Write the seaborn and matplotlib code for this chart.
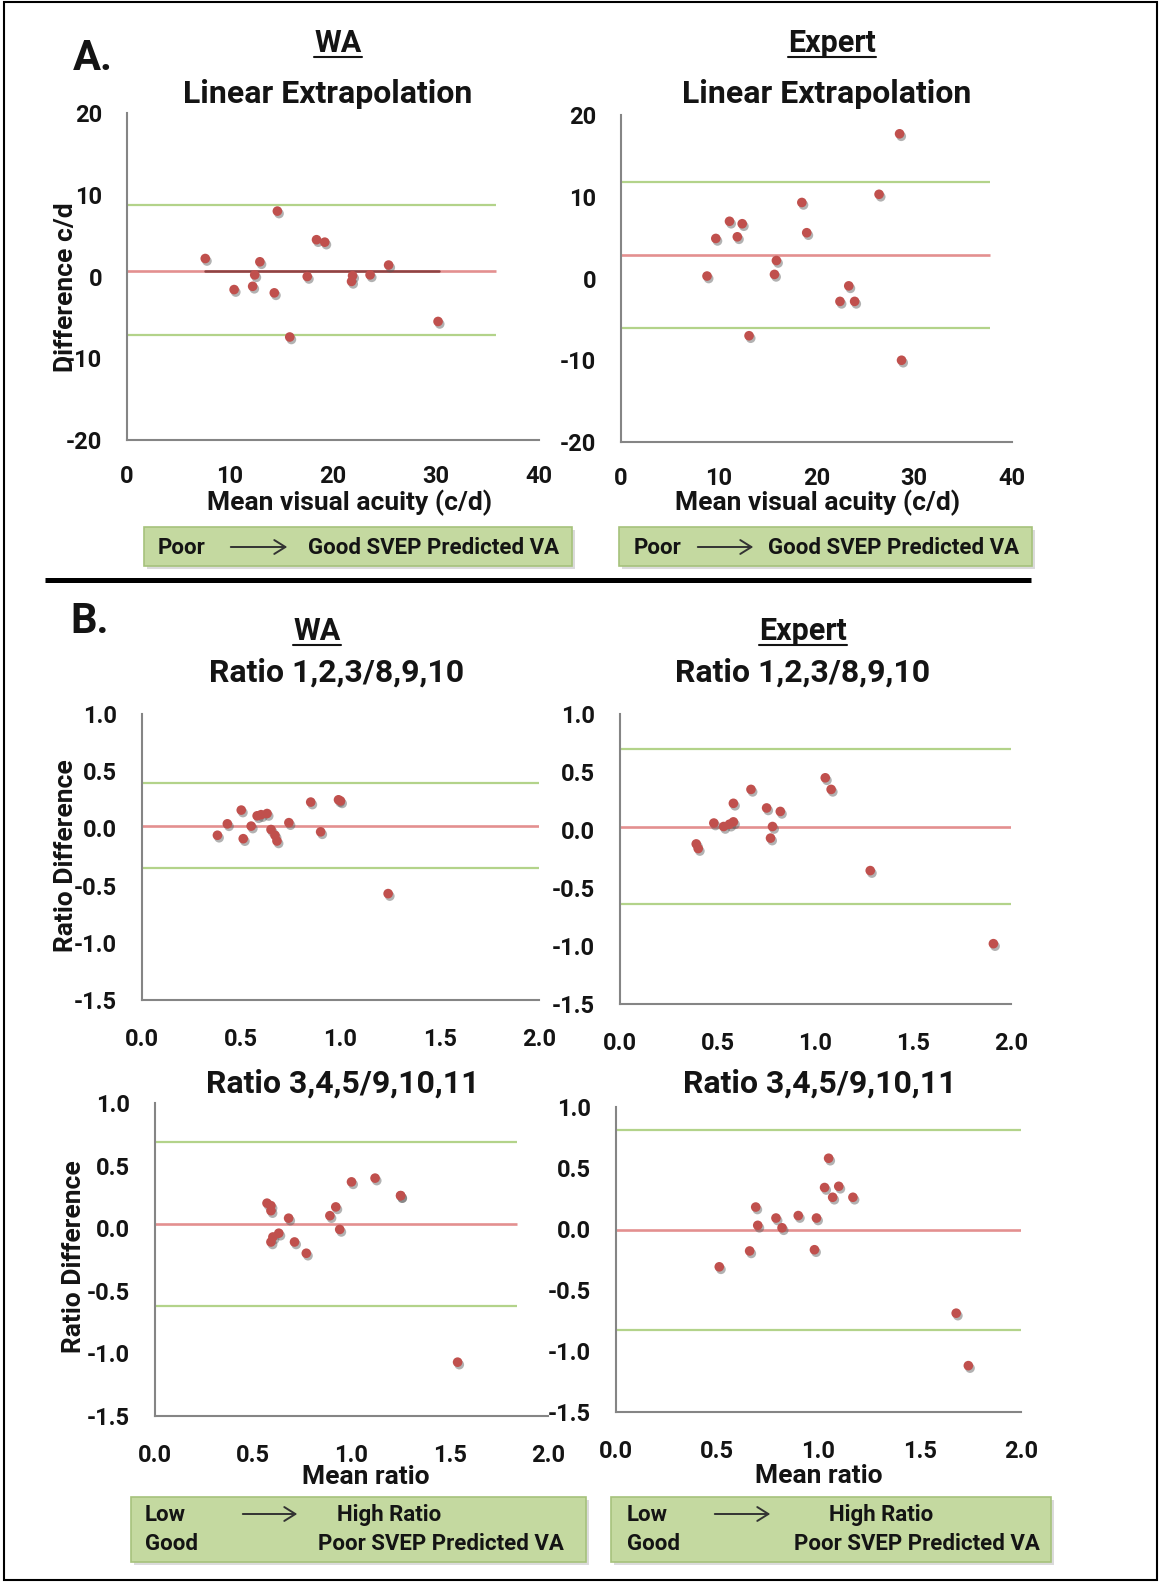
import matplotlib
matplotlib.use("Agg")
import matplotlib.pyplot as plt
import matplotlib.patheffects as pe
from matplotlib.patches import Rectangle, FancyArrowPatch
import seaborn as sns
import pandas as pd

# ---------------- data ----------------
# Panel A, WA, linear extrapolation
a_wa_mean = [7.6, 10.4, 12.2, 12.4, 12.9, 14.3, 14.6, 15.8, 17.5, 18.4, 19.2, 21.8, 21.9, 23.6, 25.4, 30.2]
a_wa_diff = [2.2, -1.6, -1.2, 0.2, 1.8, -2.0, 8.0, -7.4, 0.0, 4.5, 4.2, -0.6, 0.1, 0.2, 1.4, -5.5]
a_wa_bias, a_wa_upper, a_wa_lower = 0.7, 8.7, -7.2
a_wa_trend_x = [7.6, 30.3]
a_wa_trend_y = [0.7, 0.7]

# Panel A, Expert, linear extrapolation
a_ex_mean = [8.8, 9.7, 11.1, 11.9, 12.4, 13.1, 15.7, 15.9, 18.5, 19.0, 22.4, 23.3, 23.9, 26.4, 28.5, 28.7]
a_ex_diff = [0.3, 4.9, 7.0, 5.1, 6.7, -7.0, 0.5, 2.2, 9.3, 5.6, -2.8, -0.9, -2.8, 10.3, 17.7, -10.0]
a_ex_bias, a_ex_upper, a_ex_lower = 2.9, 11.8, -6.1

# Panel B, WA, ratio 1,2,3/8,9,10
b1_wa_mean = [0.38, 0.43, 0.50, 0.51, 0.55, 0.58, 0.60, 0.63, 0.65, 0.67, 0.68, 0.74, 0.85, 0.90, 0.99, 1.00, 1.24]
b1_wa_diff = [-0.06, 0.04, 0.16, -0.09, 0.02, 0.11, 0.12, 0.13, -0.01, -0.06, -0.11, 0.05, 0.23, -0.03, 0.25, 0.24, -0.57]
b1_wa_bias, b1_wa_upper, b1_wa_lower = 0.02, 0.40, -0.35

# Panel B, Expert, ratio 1,2,3/8,9,10
b1_ex_mean = [0.39, 0.40, 0.48, 0.53, 0.56, 0.58, 0.58, 0.67, 0.75, 0.78, 0.77, 0.82, 1.05, 1.08, 1.28, 1.91]
b1_ex_diff = [-0.12, -0.16, 0.06, 0.03, 0.05, 0.07, 0.23, 0.35, 0.19, 0.03, -0.07, 0.16, 0.45, 0.35, -0.35, -0.98]
b1_ex_bias, b1_ex_upper, b1_ex_lower = 0.03, 0.70, -0.64

# Panel B, WA, ratio 3,4,5/9,10,11
b2_wa_mean = [0.57, 0.59, 0.59, 0.60, 0.59, 0.63, 0.68, 0.71, 0.77, 0.89, 0.92, 0.94, 1.00, 1.12, 1.25, 1.25, 1.54]
b2_wa_diff = [0.20, 0.18, 0.14, -0.07, -0.11, -0.04, 0.08, -0.11, -0.20, 0.10, 0.17, -0.01, 0.37, 0.40, 0.26, 0.26, -1.07]
b2_wa_bias, b2_wa_upper, b2_wa_lower = 0.03, 0.69, -0.62

# Panel B, Expert, ratio 3,4,5/9,10,11
b2_ex_mean = [0.51, 0.66, 0.69, 0.70, 0.79, 0.82, 0.90, 0.99, 0.98, 1.03, 1.05, 1.07, 1.10, 1.17, 1.68, 1.74]
b2_ex_diff = [-0.31, -0.18, 0.18, 0.03, 0.09, 0.01, 0.11, 0.09, -0.17, 0.34, 0.58, 0.26, 0.35, 0.26, -0.69, -1.12]
b2_ex_bias, b2_ex_upper, b2_ex_lower = -0.01, 0.81, -0.83

a_xticks = [0, 10, 20, 30, 40]
a_yticks = [-20, -10, 0, 10, 20]
a_xlabels = ["0", "10", "20", "30", "40"]
a_ylabels = ["-20", "-10", "0", "10", "20"]
b_xticks = [0.0, 0.5, 1.0, 1.5, 2.0]
b_yticks = [-1.5, -1.0, -0.5, 0.0, 0.5, 1.0]
b_xlabels = ["0.0", "0.5", "1.0", "1.5", "2.0"]
b_ylabels = ["-1.5", "-1.0", "-0.5", "0.0", "0.5", "1.0"]

# ---------------- style ----------------
sns.set_style("white")
plt.rcParams["font.family"] = ["Roboto", "DejaVu Sans"]
plt.rcParams["font.weight"] = "bold"
plt.rcParams["axes.unicode_minus"] = False

RED = "#c0504d"
MEAN_C = "#e39090"
LOA_C = "#b3d38a"
TREND_C = "#8e4444"
GRAY = "#858585"
TXT = "#141414"
BOX_FC = "#c4d9a0"
BOX_EC = "#a6c27c"

TICKFS = 17
TITLEFS = 23
LABELFS = 19
BOXFS = 16

W, H = 1163, 1585
fig = plt.figure(figsize=(W / 100, H / 100), dpi=100)


def fx(x):
    return x / W


def fy(y):
    return 1 - y / H


def add_panel(l, t, r, b, x, y, bias, upper, lower, line_end, xlim, ylim,
              xticks, xlabels, yticks, ylabels, xpad=12):
    ax = fig.add_axes([fx(l), fy(b), (r - l) / W, (b - t) / H])
    ax.set_facecolor("none")
    ax.plot([0, line_end], [upper, upper], color=LOA_C, lw=1.6, zorder=2, solid_capstyle="butt")
    ax.plot([0, line_end], [lower, lower], color=LOA_C, lw=1.6, zorder=2, solid_capstyle="butt")
    ax.plot([0, line_end], [bias, bias], color=MEAN_C, lw=1.9, zorder=2, solid_capstyle="butt")
    df = pd.DataFrame({"mean": x, "diff": y})
    sns.scatterplot(data=df, x="mean", y="diff", ax=ax, color=RED, s=48,
                    edgecolor="none", linewidth=0, zorder=5, legend=False)
    ax.collections[-1].set_path_effects(
        [pe.SimplePatchShadow(offset=(1.2, -1.8), shadow_rgbFace="#555555", alpha=0.45), pe.Normal()])
    ax.set_xlim(xlim)
    ax.set_ylim(ylim)
    ax.set_xticks(xticks)
    ax.set_xticklabels(xlabels)
    ax.set_yticks(yticks)
    ax.set_yticklabels(ylabels)
    ax.set_xlabel("")
    ax.set_ylabel("")
    for s in ["top", "right"]:
        ax.spines[s].set_visible(False)
    for s in ["left", "bottom"]:
        ax.spines[s].set_color(GRAY)
        ax.spines[s].set_linewidth(1.5)
    ax.tick_params(axis="both", direction="out", length=6, width=1.3, color=GRAY,
                   labelsize=TICKFS, labelcolor=TXT)
    ax.tick_params(axis="x", pad=xpad)
    ax.tick_params(axis="y", pad=12)
    for lab in ax.get_xticklabels() + ax.get_yticklabels():
        lab.set_fontweight("bold")
    ax.grid(False)
    return ax


ax1 = add_panel(127, 113, 539, 440, a_wa_mean, a_wa_diff, a_wa_bias, a_wa_upper, a_wa_lower,
                35.8, (0, 40), (-20, 20), a_xticks, a_xlabels, a_yticks, a_ylabels)
sns.lineplot(x=a_wa_trend_x, y=a_wa_trend_y, ax=ax1, color=TREND_C, lw=1.8, zorder=3)
ax2 = add_panel(621, 115, 1012, 442, a_ex_mean, a_ex_diff, a_ex_bias, a_ex_upper, a_ex_lower,
                37.8, (0, 40), (-20, 20), a_xticks, a_xlabels, a_yticks, a_ylabels)
ax3 = add_panel(142, 714, 539, 1000, b1_wa_mean, b1_wa_diff, b1_wa_bias, b1_wa_upper, b1_wa_lower,
                2.0, (0, 2.0), (-1.5, 1.0), b_xticks, b_xlabels, b_yticks, b_ylabels, xpad=14.5)
ax4 = add_panel(620, 714, 1011, 1004, b1_ex_mean, b1_ex_diff, b1_ex_bias, b1_ex_upper, b1_ex_lower,
                2.0, (0, 2.0), (-1.5, 1.0), b_xticks, b_xlabels, b_yticks, b_ylabels, xpad=14.5)
ax5 = add_panel(155, 1103, 548, 1416, b2_wa_mean, b2_wa_diff, b2_wa_bias, b2_wa_upper, b2_wa_lower,
                1.84, (0, 2.0), (-1.5, 1.0), b_xticks, b_xlabels, b_yticks, b_ylabels, xpad=14)
ax6 = add_panel(616, 1107, 1021, 1412, b2_ex_mean, b2_ex_diff, b2_ex_bias, b2_ex_upper, b2_ex_lower,
                2.0, (0, 2.0), (-1.5, 1.0), b_xticks, b_xlabels, b_yticks, b_ylabels, xpad=14)


def ftext(x, y, s, size, ha="center", va="baseline", rot=0, **kw):
    return fig.text(fx(x), fy(y), s, fontsize=size, ha=ha, va=va, rotation=rot,
                    fontweight="bold", color=TXT, **kw)


# panel letters and titles
ftext(73, 70, "A.", 30, ha="left")
ftext(70, 633, "B.", 30, ha="left")
underlined = []
underlined.append((ftext(338, 52, "WA", 22), 57))
underlined.append((ftext(832, 52, "Expert", 22), 57))
ftext(328, 103, "Linear Extrapolation", TITLEFS)
ftext(827, 103, "Linear Extrapolation", TITLEFS)
underlined.append((ftext(317, 640, "WA", 22), 645))
underlined.append((ftext(803, 640, "Expert", 22), 645))
ftext(337, 682, "Ratio 1,2,3/8,9,10", TITLEFS)
ftext(803, 682, "Ratio 1,2,3/8,9,10", TITLEFS)
ftext(343, 1093, "Ratio 3,4,5/9,10,11", TITLEFS)
ftext(820, 1093, "Ratio 3,4,5/9,10,11", TITLEFS)

# axis labels
ftext(66, 287, "Difference c/d", LABELFS, va="center", rot=90)
ftext(66, 856, "Ratio Difference", LABELFS, va="center", rot=90)
ftext(74, 1257, "Ratio Difference", LABELFS, va="center", rot=90)
ftext(350, 503, "Mean visual acuity (c/d)", LABELFS, va="center")
ftext(818, 503, "Mean visual acuity (c/d)", LABELFS, va="center")
ftext(366, 1477, "Mean ratio", LABELFS, va="center")
ftext(819, 1476, "Mean ratio", LABELFS, va="center")


def box(l, t, r, b):
    fig.patches.append(Rectangle((fx(l + 3), fy(b + 3)), (r - l) / W, (b - t) / H,
                                 transform=fig.transFigure, facecolor="#999999",
                                 edgecolor="none", alpha=0.35, zorder=1))
    fig.patches.append(Rectangle((fx(l), fy(b)), (r - l) / W, (b - t) / H,
                                 transform=fig.transFigure, facecolor=BOX_FC,
                                 edgecolor=BOX_EC, lw=1.2, zorder=2))


def arrow(x0, x1, y):
    fig.patches.append(FancyArrowPatch((fx(x0), fy(y)), (fx(x1), fy(y)), transform=fig.transFigure,
                                       arrowstyle="->,head_length=8,head_width=5", color="#333333",
                                       lw=1.4, zorder=3, mutation_scale=1))


box(144, 527, 572, 566)
ftext(158, 548, "Poor", BOXFS, ha="left", va="center", zorder=4)
arrow(228, 290, 547)
ftext(308, 548, "Good SVEP Predicted VA", BOXFS, ha="left", va="center", zorder=4)

box(619, 527, 1032, 566)
ftext(634, 548, "Poor", BOXFS, ha="left", va="center", zorder=4)
arrow(695, 756, 547)
ftext(768, 548, "Good SVEP Predicted VA", BOXFS, ha="left", va="center", zorder=4)

box(131, 1497, 586, 1562)
ftext(145, 1515, "Low", BOXFS, ha="left", va="center", zorder=4)
arrow(240, 300, 1514)
ftext(337, 1515, "High Ratio", BOXFS, ha="left", va="center", zorder=4)
ftext(145, 1544, "Good", BOXFS, ha="left", va="center", zorder=4)
ftext(318, 1544, "Poor SVEP Predicted VA", BOXFS, ha="left", va="center", zorder=4)

box(611, 1497, 1051, 1562)
ftext(627, 1515, "Low", BOXFS, ha="left", va="center", zorder=4)
arrow(712, 773, 1514)
ftext(829, 1515, "High Ratio", BOXFS, ha="left", va="center", zorder=4)
ftext(627, 1544, "Good", BOXFS, ha="left", va="center", zorder=4)
ftext(794, 1544, "Poor SVEP Predicted VA", BOXFS, ha="left", va="center", zorder=4)

# separator line and frame
fig.lines.append(plt.Line2D([fx(45), fx(1031)], [fy(580), fy(580)], transform=fig.transFigure,
                            color="black", lw=3.6, solid_capstyle="butt"))
fig.patches.append(Rectangle((fx(4), fy(1580)), (1157 - 4) / W, (1580 - 2) / H,
                             transform=fig.transFigure, facecolor="none",
                             edgecolor="black", lw=1.5, zorder=10))

# underline titles
fig.canvas.draw()
rend = fig.canvas.get_renderer()
for t, yy in underlined:
    bb = t.get_window_extent(rend)
    fig.lines.append(plt.Line2D([bb.x0 / W, bb.x1 / W], [fy(yy), fy(yy)], transform=fig.transFigure,
                                color=TXT, lw=1.5))

fig.savefig("out.png", dpi=100)
